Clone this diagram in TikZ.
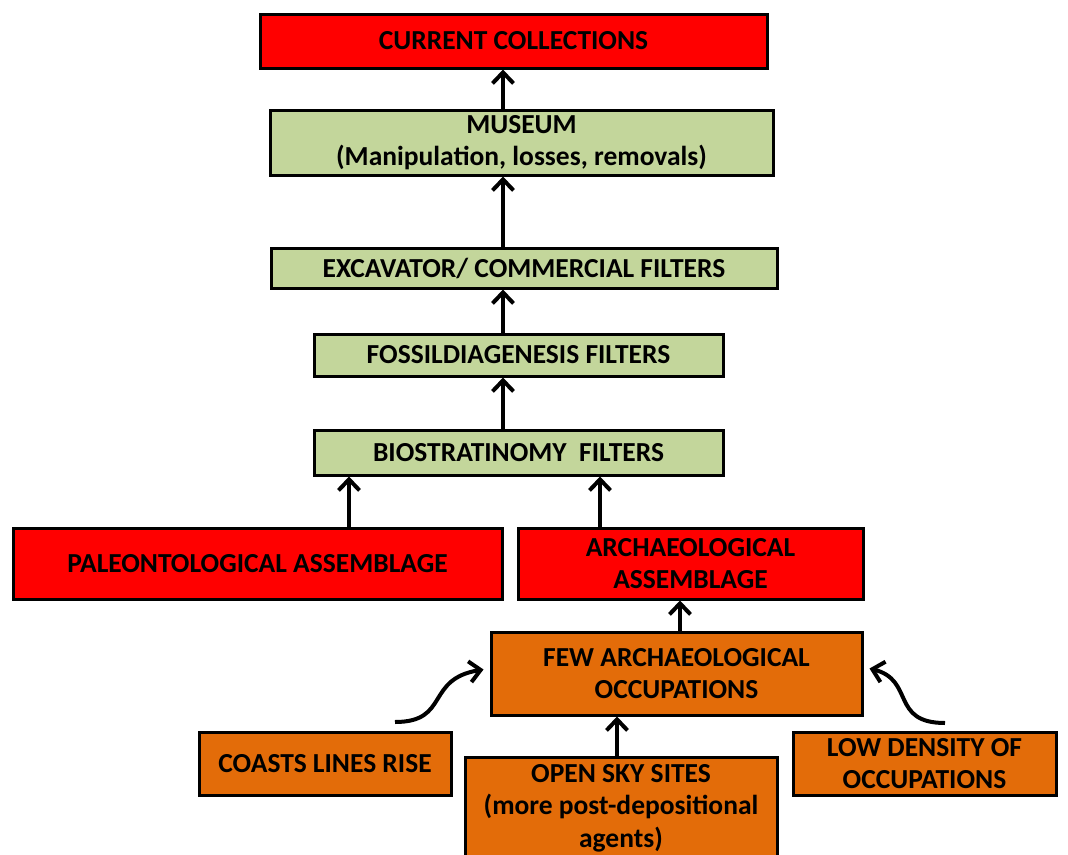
\documentclass[tikz,border=0pt]{standalone}
\usepackage{fontspec}
\setmainfont{Carlito}
\usetikzlibrary{arrows.meta}
\definecolor{boxred}{HTML}{FF0000}
\definecolor{boxgreen}{HTML}{C3D69B}
\definecolor{boxorange}{HTML}{E36C09}
\tikzset{
  box/.style={draw=black, line width=3pt, inner sep=0pt, align=center,
    font=\fontsize{27.5}{32.5}\selectfont\bfseries},
  redbox/.style={box, fill=boxred},
  greenbox/.style={box, fill=boxgreen},
  orangebox/.style={box, fill=boxorange},
  arr/.style={line width=4pt, -{Straight Barb[length=11pt,width=21pt,line width=4pt]}},
}
\begin{document}
\begin{tikzpicture}[x=1pt,y=-1pt]
\useasboundingbox (0,0) rectangle (1068,854);
\node[redbox, minimum width=507pt, minimum height=54pt] (cur) at (513.5,41) {CURRENT COLLECTIONS};
\node[greenbox, minimum width=503pt, minimum height=65pt] (mus) at (521.5,142.5) {MUSEUM\\(Manipulation, losses, removals)};
\node[greenbox, minimum width=506pt, minimum height=40pt] (exc) at (524,268) {EXCAVATOR/ COMMERCIAL FILTERS};
\node[greenbox, minimum width=409pt, minimum height=42pt] (fos) at (518.5,355) {FOSSILDIAGENESIS FILTERS};
\node[greenbox, minimum width=409pt, minimum height=45pt] (bio) at (518.5,452.5) {BIOSTRATINOMY\ \ FILTERS};
\node[redbox, minimum width=489pt, minimum height=71pt] (pal) at (257.5,563.5) {PALEONTOLOGICAL ASSEMBLAGE};
\node[redbox, minimum width=345pt, minimum height=71pt] (arc) at (690.5,563.5) {ARCHAEOLOGICAL\\ASSEMBLAGE};
\node[orangebox, minimum width=371pt, minimum height=83pt] (few) at (676.5,673.5) {FEW ARCHAEOLOGICAL\\OCCUPATIONS};
\node[orangebox, minimum width=252pt, minimum height=63pt] (coa) at (325,763.5) {COASTS LINES RISE};
\node[orangebox, minimum width=312pt, minimum height=102pt] (opn) at (621,808) {OPEN SKY SITES\\(more post-depositional\\agents)};
\node[orangebox, minimum width=263pt, minimum height=63pt] (low) at (924.5,763.5) {LOW DENSITY OF\\OCCUPATIONS};

\coordinate (lstart) at (395,722);
\coordinate (rstart) at (945,723);

\draw[arr] ([xshift=-18.5pt]mus.north) -- ([xshift=-18.5pt]mus.north |- cur.south);
\draw[arr] ([xshift=-21pt]exc.north) -- ([xshift=-21pt]exc.north |- mus.south);
\draw[arr] ([xshift=-15.5pt]fos.north) -- ([xshift=-15.5pt]fos.north |- exc.south);
\draw[arr] ([xshift=-15.5pt]bio.north) -- ([xshift=-15.5pt]bio.north |- fos.south);
\draw[arr] ([xshift=91.5pt]pal.north) -- ([xshift=91.5pt]pal.north |- bio.south);
\draw[arr] ([xshift=-90.5pt]arc.north) -- ([xshift=-90.5pt]arc.north |- bio.south);
\draw[arr] ([xshift=3.5pt]few.north) -- ([xshift=3.5pt]few.north |- arc.south);
\draw[arr] ([xshift=-4pt]opn.north) -- ([xshift=-4pt]opn.north |- few.south);
\draw[arr] (lstart) .. controls (450,722) and (425,679) .. ([xshift=-6pt,yshift=4pt]few.west);
\draw[arr] (rstart) .. controls (890,723) and (915,680) .. ([xshift=6pt,yshift=5pt]few.east);
\end{tikzpicture}
\end{document}
